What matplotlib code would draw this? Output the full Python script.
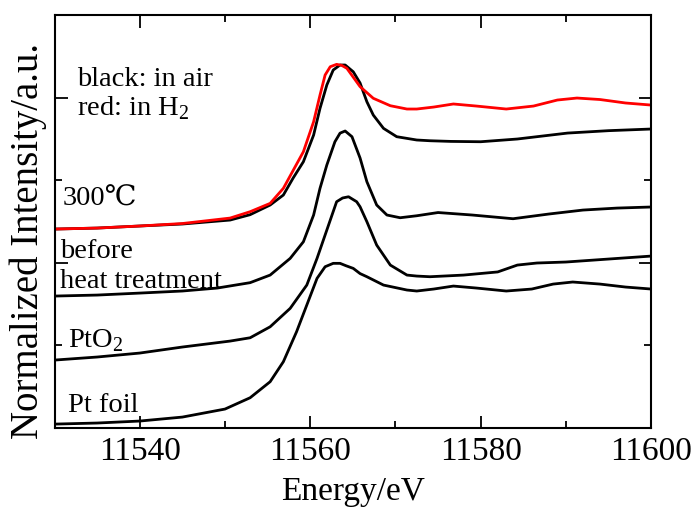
"""Pt L3-edge XANES spectra, stacked"""
import numpy as np
import matplotlib
matplotlib.use('Agg')
import matplotlib.pyplot as plt
from matplotlib.ticker import MultipleLocator

plt.rcParams['font.family'] = ['Liberation Serif', 'DejaVu Serif', 'Noto Sans CJK JP']
plt.rcParams['mathtext.fontset'] = 'custom'
plt.rcParams['mathtext.rm'] = 'Liberation Serif'

# Pt foil
e_foil = [11530, 11535, 11540, 11545, 11550, 11552.95, 11555.3, 11556.85, 11558.4,
          11559.6, 11560.8, 11561.75, 11562.7, 11563.5, 11564.2, 11565.05, 11565.85,
          11566.65, 11568.6, 11571.35, 11572.5, 11574.5, 11576.8, 11579.5, 11583,
          11586, 11588.5, 11590.8, 11594, 11597, 11600]
i_foil = [0.048, 0.061, 0.085, 0.133, 0.230, 0.367, 0.561, 0.803, 1.166,
          1.489, 1.812, 1.953, 1.994, 1.994, 1.965, 1.933, 1.870,
          1.832, 1.731, 1.671, 1.659, 1.683, 1.719, 1.695, 1.659,
          1.683, 1.743, 1.768, 1.743, 1.707, 1.683]

# PtO2
e_pto2 = [11530, 11535, 11540, 11545, 11550.6, 11552.95, 11555.3, 11557.65, 11559.6,
          11560.8, 11561.95, 11563.1, 11563.8, 11564.5, 11565.45, 11565.85, 11566.65,
          11567.8, 11569.4, 11571.35, 11572.5, 11574.05, 11578, 11582, 11584.3,
          11586.6, 11590, 11595, 11600]
i_pto2 = [0.823, 0.860, 0.908, 0.981, 1.053, 1.093, 1.226, 1.449, 1.731,
          2.054, 2.397, 2.740, 2.785, 2.800, 2.740, 2.679, 2.498,
          2.215, 1.973, 1.852, 1.840, 1.832, 1.852, 1.890, 1.973,
          1.998, 2.010, 2.046, 2.082]

# before heat treatment
e_before = [11530, 11535, 11540, 11545, 11549.1, 11552.95, 11555.3, 11557.65, 11559.2,
            11560.4, 11561.15, 11561.95, 11562.9, 11563.5, 11564.1, 11564.9, 11565.85,
            11566.65, 11567.8, 11569.0, 11570.55, 11572.5, 11575, 11579, 11583.8,
            11588, 11592, 11596, 11600]
i_before = [1.598, 1.610, 1.634, 1.659, 1.695, 1.760, 1.852, 2.054, 2.255,
            2.579, 2.902, 3.184, 3.466, 3.570, 3.596, 3.527, 3.269,
            2.982, 2.700, 2.579, 2.546, 2.570, 2.609, 2.579, 2.534,
            2.591, 2.639, 2.663, 2.676]

# 300 C, in air (black)
e_air = [11530, 11535, 11540, 11545, 11550.6, 11552.95, 11555.3, 11556.85, 11558.0,
         11559.2, 11560.4, 11561.15, 11561.95, 11562.7, 11563.5, 11564.1, 11565.05,
         11565.85, 11566.65, 11567.4, 11568.6, 11570.15, 11572.5, 11574.05, 11576.5,
         11580, 11584.3, 11590.2, 11595, 11600]
i_air = [2.409, 2.421, 2.446, 2.470, 2.518, 2.583, 2.700, 2.821, 3.027,
         3.224, 3.547, 3.870, 4.153, 4.334, 4.395, 4.395, 4.313,
         4.177, 3.950, 3.789, 3.628, 3.527, 3.487, 3.478, 3.470,
         3.466, 3.499, 3.571, 3.600, 3.620]

# 300 C, in H2 (red)
e_h2 = [11530, 11535, 11540, 11545, 11550.6, 11552.95, 11555.3, 11556.85, 11559.2,
        11560.4, 11561.15, 11561.75, 11562.35, 11563.1, 11563.7, 11564.3, 11565.85,
        11567.4, 11569.4, 11571.35, 11572.5, 11574.5, 11576.8, 11579.5, 11583,
        11586.2, 11589, 11591.3, 11594, 11597, 11600]
i_h2 = [2.409, 2.421, 2.446, 2.476, 2.542, 2.619, 2.720, 2.902, 3.345,
        3.708, 4.031, 4.274, 4.374, 4.403, 4.390, 4.355, 4.133,
        3.992, 3.902, 3.862, 3.862, 3.886, 3.923, 3.898, 3.862,
        3.898, 3.971, 3.995, 3.977, 3.935, 3.910]

fig = plt.figure(figsize=(6.97, 5.09), dpi=100)
ax = fig.add_axes([0.0782, 0.159, 0.856, 0.8115])

lw = 2.0
ax.plot(e_foil, i_foil, color='black', lw=lw)
ax.plot(e_pto2, i_pto2, color='black', lw=lw)
ax.plot(e_before, i_before, color='black', lw=lw)
ax.plot(e_air, i_air, color='black', lw=lw)
ax.plot(e_h2, i_h2, color='red', lw=lw)

ax.set_xlim(11530, 11600)
ax.set_ylim(0, 5)
ax.xaxis.set_major_locator(MultipleLocator(20))
ax.xaxis.set_minor_locator(MultipleLocator(10))
ax.yaxis.set_major_locator(MultipleLocator(2))
ax.yaxis.set_minor_locator(MultipleLocator(1))
ax.tick_params(which='both', direction='in', top=True, right=True, width=1.3,
               labelsize=24, pad=6)
ax.tick_params(which='major', length=9)
ax.tick_params(which='minor', length=5)
ax.set_yticklabels([])
for s in ax.spines.values():
    s.set_linewidth(1.5)

ax.set_xlabel('Energy/eV', fontsize=24, labelpad=7)
ax.set_ylabel('Normalized Intensity/a.u.', fontsize=28)
ax.yaxis.set_label_coords(-0.012, 0.453)

fs = 20.5
ax.text(11532.6, 4.14, 'black: in air', fontsize=fs, va='baseline')
ax.text(11532.6, 3.79, r'red: in H$_\mathrm{2}$', fontsize=fs, va='baseline')
ax.text(11531.0, 2.69, '300℃', fontsize=fs, va='baseline')
ax.text(11530.6, 2.06, 'before', fontsize=fs, va='baseline')
ax.text(11530.6, 1.695, 'heat treatment', fontsize=fs, va='baseline')
ax.text(11531.6, 0.98, r'PtO$_\mathrm{2}$', fontsize=fs, va='baseline')
ax.text(11531.6, 0.19, 'Pt foil', fontsize=fs, va='baseline')

plt.savefig('out.png', dpi=100)
